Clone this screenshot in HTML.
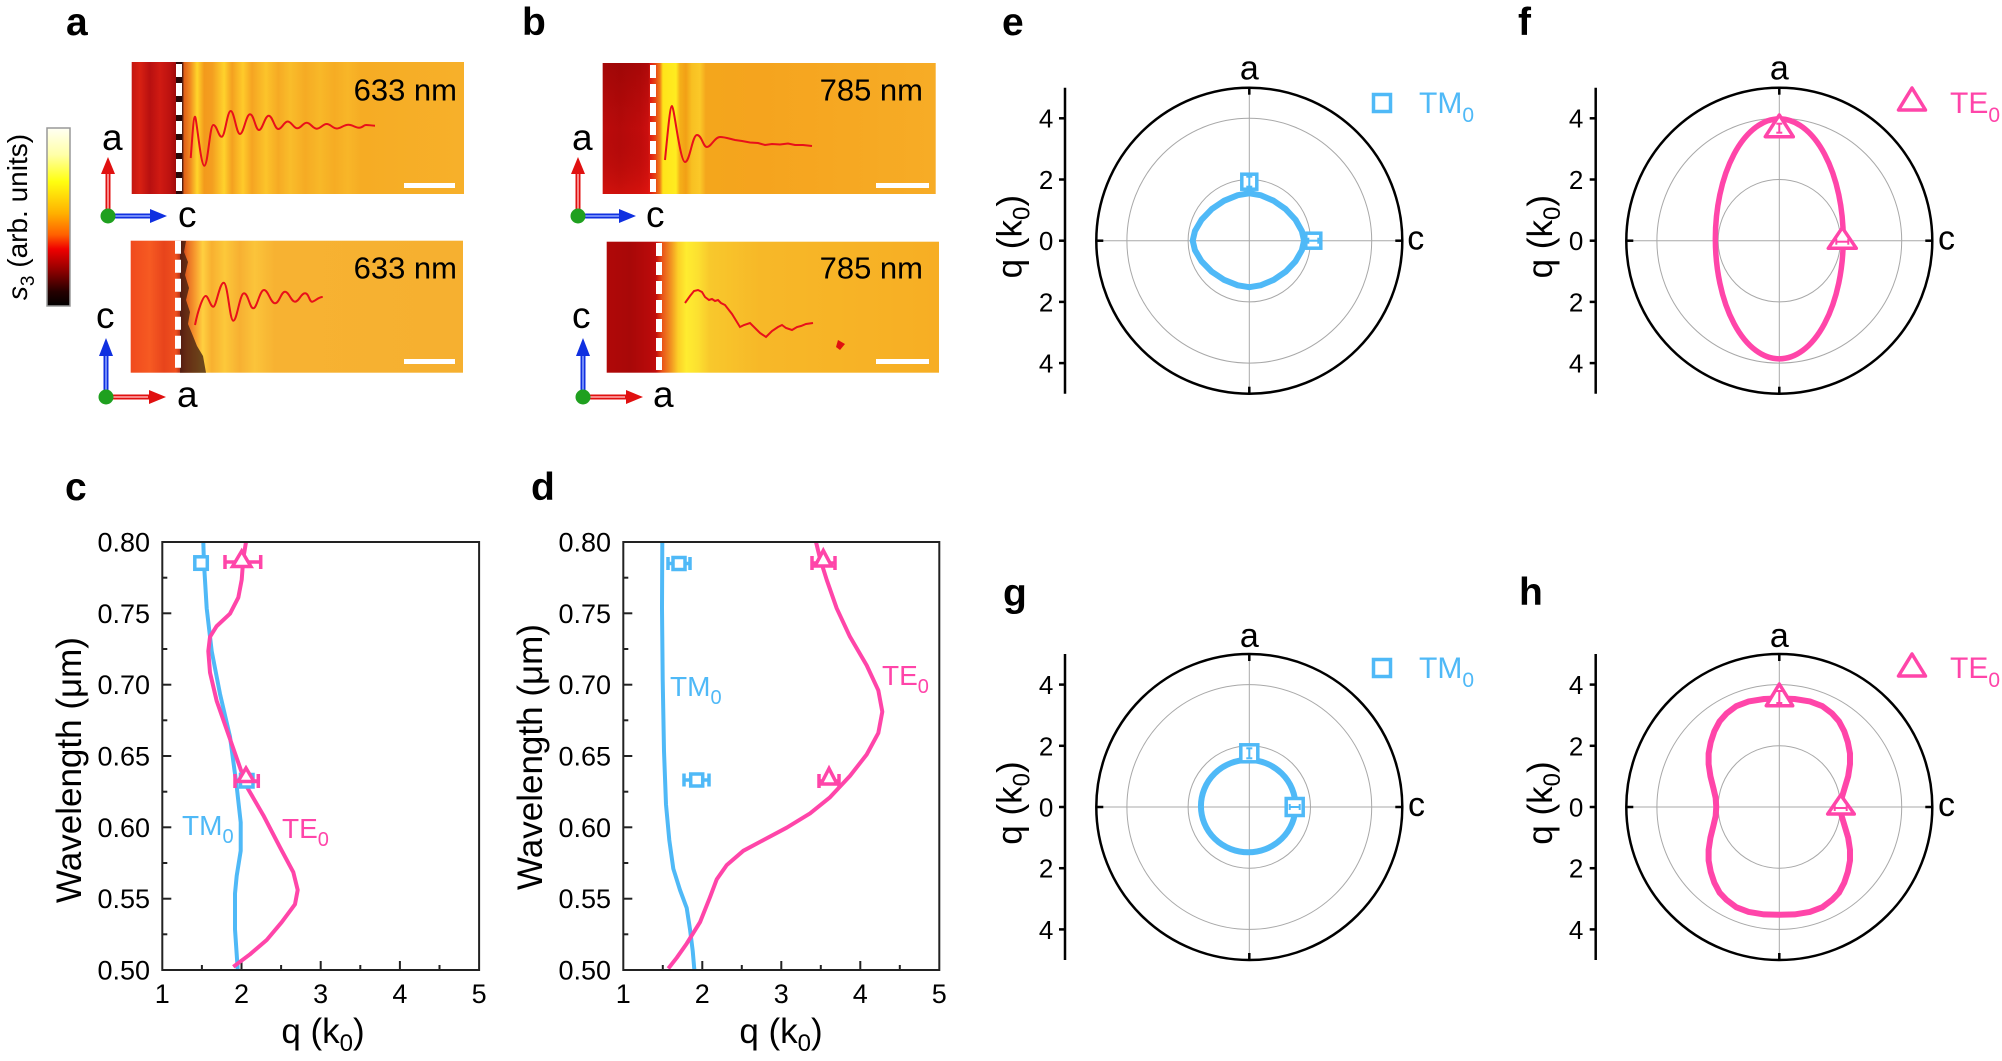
<!DOCTYPE html>
<html><head><meta charset="utf-8"><style>
html,body{margin:0;padding:0;background:#fff;}
svg{display:block;font-family:"Liberation Sans",Arial,sans-serif;}
.pl{font-weight:bold;font-size:39px;fill:#000;}
.tk{font-size:27px;fill:#000;}
.ptk{font-size:26px;fill:#000;}
.ttl{font-size:35px;fill:#000;}
.ns{vector-effect:non-scaling-stroke;}
</style></head><body>
<svg width="2002" height="1061" viewBox="0 0 2002 1061" xmlns="http://www.w3.org/2000/svg">
<defs>
<linearGradient id="cb" x1="0" y1="0" x2="0" y2="1">
<stop offset="0" stop-color="#fffff4"/><stop offset="0.15" stop-color="#ffffa8"/><stop offset="0.3" stop-color="#ffff10"/><stop offset="0.48" stop-color="#ffb000"/><stop offset="0.6" stop-color="#ff6000"/><stop offset="0.68" stop-color="#f00000"/><stop offset="0.8" stop-color="#900000"/><stop offset="0.92" stop-color="#250000"/><stop offset="1" stop-color="#000"/>
</linearGradient>
<linearGradient id="gaT" gradientUnits="userSpaceOnUse" x1="131.7" y1="0" x2="464" y2="0">
<stop offset="0" stop-color="#c41610"/><stop offset="0.025" stop-color="#d82012"/><stop offset="0.055" stop-color="#b81010"/><stop offset="0.085" stop-color="#d01a12"/><stop offset="0.115" stop-color="#bc1210"/><stop offset="0.133" stop-color="#a00c0c"/><stop offset="0.137" stop-color="#301010"/><stop offset="0.152" stop-color="#401510"/><stop offset="0.158" stop-color="#e06018"/><stop offset="0.176" stop-color="#f08a20"/><stop offset="0.197" stop-color="#ffd52a"/><stop offset="0.218" stop-color="#f39a1c"/><stop offset="0.242" stop-color="#f49e20"/><stop offset="0.278" stop-color="#ffd22c"/><stop offset="0.302" stop-color="#f4a020"/><stop offset="0.335" stop-color="#ffcb2a"/><stop offset="0.362" stop-color="#f5a422"/><stop offset="0.404" stop-color="#fcc42a"/><stop offset="0.441" stop-color="#f6aa24"/><stop offset="0.477" stop-color="#f9bd2a"/><stop offset="0.522" stop-color="#f6ab24"/><stop offset="0.567" stop-color="#f8b828"/><stop offset="0.61" stop-color="#f6ac24"/><stop offset="0.65" stop-color="#f8b628"/><stop offset="0.69" stop-color="#f6ac24"/><stop offset="1" stop-color="#f7b02a"/>
</linearGradient>
<linearGradient id="gaB" gradientUnits="userSpaceOnUse" x1="130.7" y1="0" x2="463" y2="0">
<stop offset="0" stop-color="#f04a1e"/><stop offset="0.058" stop-color="#f65a22"/><stop offset="0.1" stop-color="#e8441c"/><stop offset="0.136" stop-color="#f0501e"/><stop offset="0.151" stop-color="#b03018"/><stop offset="0.17" stop-color="#e86a22"/><stop offset="0.196" stop-color="#f8a030"/><stop offset="0.217" stop-color="#ffd040"/><stop offset="0.244" stop-color="#f8b030"/><stop offset="0.283" stop-color="#fcc83a"/><stop offset="0.328" stop-color="#f7b032"/><stop offset="0.373" stop-color="#fbc43a"/><stop offset="0.433" stop-color="#f7b232"/><stop offset="1" stop-color="#f6b030"/>
</linearGradient>
<linearGradient id="gbT" gradientUnits="userSpaceOnUse" x1="602.7" y1="0" x2="935.7" y2="0">
<stop offset="0" stop-color="#c00c0c"/><stop offset="0.052" stop-color="#b80a0a"/><stop offset="0.112" stop-color="#c40c0c"/><stop offset="0.136" stop-color="#d01010"/><stop offset="0.142" stop-color="#e01a10"/><stop offset="0.16" stop-color="#e84a14"/><stop offset="0.172" stop-color="#f07c18"/><stop offset="0.181" stop-color="#ffe41a"/><stop offset="0.22" stop-color="#ffec20"/><stop offset="0.232" stop-color="#f5b018"/><stop offset="0.25" stop-color="#f2a016"/><stop offset="0.268" stop-color="#f8c022"/><stop offset="0.292" stop-color="#fbc828"/><stop offset="0.31" stop-color="#f4a61c"/><stop offset="0.472" stop-color="#f5a41e"/><stop offset="1" stop-color="#f7ac26"/>
</linearGradient>
<linearGradient id="gbB" gradientUnits="userSpaceOnUse" x1="606.7" y1="0" x2="939" y2="0">
<stop offset="0" stop-color="#b00808"/><stop offset="0.07" stop-color="#a80808"/><stop offset="0.13" stop-color="#b80a0a"/><stop offset="0.148" stop-color="#c00c0c"/><stop offset="0.166" stop-color="#e85018"/><stop offset="0.19" stop-color="#f08a20"/><stop offset="0.215" stop-color="#fcd028"/><stop offset="0.24" stop-color="#ffec30"/><stop offset="0.275" stop-color="#fce030"/><stop offset="0.311" stop-color="#f8c82c"/><stop offset="0.462" stop-color="#f7b828"/><stop offset="1" stop-color="#f7ae24"/>
</linearGradient>
<linearGradient id="bshade" x1="0" y1="0" x2="0" y2="1">
<stop offset="0" stop-color="#700000" stop-opacity="0.35"/><stop offset="0.5" stop-color="#700000" stop-opacity="0.05"/><stop offset="1" stop-color="#ff2010" stop-opacity="0.3"/>
</linearGradient>
</defs>
<rect width="2002" height="1061" fill="#fff"/>

<!-- panel letters -->
<text class="pl" x="66" y="35">a</text>
<text class="pl" x="522" y="35">b</text>
<text class="pl" x="1002" y="35">e</text>
<text class="pl" x="1518" y="35">f</text>
<text class="pl" x="65" y="500">c</text>
<text class="pl" x="531" y="500">d</text>
<text class="pl" x="1003" y="606">g</text>
<text class="pl" x="1519" y="605">h</text>

<!-- colorbar -->
<rect x="47" y="128" width="23" height="178" fill="url(#cb)" stroke="#999" stroke-width="1.5"/>
<text transform="translate(27,217) rotate(-90)" text-anchor="middle" font-size="28"><tspan font-style="italic">s</tspan><tspan font-size="19" dy="7">3</tspan><tspan dy="-7"> (arb. units)</tspan></text>

<!-- panel a top image -->
<rect x="131.7" y="62" width="332.3" height="132" fill="url(#gaT)"/>
<line x1="179" y1="62" x2="179" y2="194" stroke="#2a0808" stroke-width="6"/>
<line x1="179" y1="64" x2="179" y2="194" stroke="#fff" stroke-width="6" stroke-dasharray="13 6"/>
<path d="M190.7,158 C192.5,135 193.5,116.7 195,116.7 S200.6,165.7 204.3,165.7 S209.7,125 213.3,125 S218.3,136.7 221.7,136.7 S227.1,111 230.7,111 S236.3,134 240,134 S246,114.3 250,114.3 S255.4,130 259,130 S264.8,115.7 268.7,115.7 S274.5,129 278.3,129 S283.9,121.5 287.7,121.5 S293.5,128.3 297.3,128.3 S302.9,122.7 306.7,122.7 S312.7,128.7 316.7,128.7 S322.7,124 326.7,124 S332.7,128.5 336.7,128.5 S343.7,124.7 348.3,124.7 S354.7,127.7 359,127.7 S363,125 366,125 S371,125.5 375,125.7" fill="none" stroke="#e8101a" stroke-width="2"/>
<text x="457" y="100.7" text-anchor="end" font-size="31">633 nm</text>
<rect x="404" y="183" width="51" height="5" fill="#fff"/>

<!-- panel a bottom image -->
<rect x="130.7" y="240.7" width="332.3" height="132" fill="url(#gaB)"/>
<path d="M180,241 L186,241 L184,252 L188,262 L185,275 L189,288 L186,300 L190,312 L188,324 L193,336 L197,346 L203,356 L206,372.7 L180,372.7Z" fill="#3a1a10" opacity="0.75"/>
<line x1="178" y1="240.7" x2="178" y2="372.7" stroke="#fff" stroke-width="6" stroke-dasharray="13 6"/>
<path d="M195,325 C198,310 203,296 205.7,296 S210.3,306.7 213.3,306.7 S219.5,282.7 223.7,282.7 S229.5,320.7 233.3,320.7 S239.7,293.3 244,293.3 S249.6,308.3 253.3,308.3 S259.7,290 264,290 S270.6,303.3 275,303.3 S281,291.7 285,291.7 S291,301.7 295,301.7 S301,293.3 305,293.3 S309.2,301.7 312,301.7 S318,297 322.7,297" fill="none" stroke="#e8101a" stroke-width="2"/>
<text x="457" y="278.3" text-anchor="end" font-size="31">633 nm</text>
<rect x="404" y="359" width="51" height="5" fill="#fff"/>

<!-- panel b top image -->
<rect x="602.7" y="63" width="333" height="131" fill="url(#gbT)"/>
<rect x="602.7" y="63" width="47" height="131" fill="url(#bshade)"/>
<line x1="653" y1="65" x2="653" y2="194" stroke="#fff" stroke-width="6" stroke-dasharray="13 6"/>
<path d="M665,160 C668,130 670,106 672,106 S680,162 685,162 S692.2,135 697,135 S703,147 707,147 S714.8,137 720,137 S730,139 735,140 L742,141 L750,142.5 L758,143 L765,145 L772,144 L780,144.5 L788,143.5 L795,145 L803,145 L812,146" fill="none" stroke="#e8101a" stroke-width="2"/>
<text x="923" y="100.7" text-anchor="end" font-size="31">785 nm</text>
<rect x="876" y="183" width="53" height="5" fill="#fff"/>

<!-- panel b bottom image -->
<rect x="606.7" y="241.7" width="332.3" height="131" fill="url(#gbB)"/>
<line x1="659" y1="243" x2="659" y2="372.7" stroke="#fff" stroke-width="6" stroke-dasharray="13 6"/>
<path d="M685,303 L690,296 L694,291 L698,290 L702,292 L705,297 L709,300 L712,299 L715,301 L718,300 L721,303 L725,305 L732,314 L740,327 L744,325 L750,323 L756,329 L760,333 L766,337 L772,331 L778,327 L782,325 L786,328 L792,330 L797,327 L801,326 L806,324 L813,323" fill="none" stroke="#e8101a" stroke-width="2"/>
<path d="M838,340 L845,344 L840,350 L836,347Z" fill="#e01010"/>
<text x="923" y="278.3" text-anchor="end" font-size="31">785 nm</text>
<rect x="876" y="359" width="53" height="5" fill="#fff"/>

<!-- coordinate arrows a top -->
<g>
<line x1="108" y1="216" x2="108" y2="172" stroke="#e01010" stroke-width="5"/><line x1="108" y1="214" x2="108" y2="174" stroke="#ffb0b0" stroke-width="1.5"/>
<polygon points="101,174 115,174 108,157" fill="#e01010"/>
<line x1="108" y1="216" x2="152" y2="216" stroke="#1030e0" stroke-width="5"/><line x1="110" y1="216" x2="150" y2="216" stroke="#90a8ff" stroke-width="1.5"/>
<polygon points="150,209 150,223 167,216" fill="#1030e0"/>
<circle cx="108" cy="216" r="7.5" fill="#1fa01f"/>
<text x="102" y="150" font-size="37">a</text><text x="178" y="227" font-size="37">c</text>
</g>
<!-- a bottom -->
<g>
<line x1="106" y1="397" x2="106" y2="354" stroke="#1030e0" stroke-width="5"/><line x1="106" y1="395" x2="106" y2="356" stroke="#90a8ff" stroke-width="1.5"/>
<polygon points="99,356 113,356 106,338" fill="#1030e0"/>
<line x1="106" y1="397" x2="150" y2="397" stroke="#e01010" stroke-width="5"/><line x1="108" y1="397" x2="148" y2="397" stroke="#ffb0b0" stroke-width="1.5"/>
<polygon points="149,390 149,404 166,397" fill="#e01010"/>
<circle cx="106" cy="397" r="7.5" fill="#1fa01f"/>
<text x="96" y="328" font-size="37">c</text><text x="177" y="407" font-size="37">a</text>
</g>
<!-- b top -->
<g>
<line x1="578" y1="216" x2="578" y2="172" stroke="#e01010" stroke-width="5"/><line x1="578" y1="214" x2="578" y2="174" stroke="#ffb0b0" stroke-width="1.5"/>
<polygon points="571,174 585,174 578,157" fill="#e01010"/>
<line x1="578" y1="216" x2="621" y2="216" stroke="#1030e0" stroke-width="5"/><line x1="580" y1="216" x2="619" y2="216" stroke="#90a8ff" stroke-width="1.5"/>
<polygon points="619,209 619,223 636,216" fill="#1030e0"/>
<circle cx="578" cy="216" r="7.5" fill="#1fa01f"/>
<text x="572" y="150" font-size="37">a</text><text x="646" y="227" font-size="37">c</text>
</g>
<!-- b bottom -->
<g>
<line x1="583" y1="397" x2="583" y2="354" stroke="#1030e0" stroke-width="5"/><line x1="583" y1="395" x2="583" y2="356" stroke="#90a8ff" stroke-width="1.5"/>
<polygon points="576,356 590,356 583,338" fill="#1030e0"/>
<line x1="583" y1="397" x2="627" y2="397" stroke="#e01010" stroke-width="5"/><line x1="585" y1="397" x2="625" y2="397" stroke="#ffb0b0" stroke-width="1.5"/>
<polygon points="626,390 626,404 643,397" fill="#e01010"/>
<circle cx="583" cy="397" r="7.5" fill="#1fa01f"/>
<text x="572" y="328" font-size="37">c</text><text x="653" y="407" font-size="37">a</text>
</g>

<!-- ============ panel c ============ -->
<g stroke="#222" stroke-width="2">
<line x1="162.3" y1="934.3" x2="167.3" y2="934.3"/><line x1="162.3" y1="898.7" x2="171.3" y2="898.7"/>
<line x1="162.3" y1="863" x2="167.3" y2="863"/><line x1="162.3" y1="827.3" x2="171.3" y2="827.3"/>
<line x1="162.3" y1="791.7" x2="167.3" y2="791.7"/><line x1="162.3" y1="756" x2="171.3" y2="756"/>
<line x1="162.3" y1="720.3" x2="167.3" y2="720.3"/><line x1="162.3" y1="684.7" x2="171.3" y2="684.7"/>
<line x1="162.3" y1="649" x2="167.3" y2="649"/><line x1="162.3" y1="613.3" x2="171.3" y2="613.3"/>
<line x1="162.3" y1="577.7" x2="167.3" y2="577.7"/>
<line x1="201.9" y1="970" x2="201.9" y2="965"/><line x1="241.5" y1="970" x2="241.5" y2="961"/>
<line x1="281.1" y1="970" x2="281.1" y2="965"/><line x1="320.7" y1="970" x2="320.7" y2="961"/>
<line x1="360.3" y1="970" x2="360.3" y2="965"/><line x1="399.9" y1="970" x2="399.9" y2="961"/>
<line x1="439.5" y1="970" x2="439.5" y2="965"/>
</g>
<polyline points="203.3,542 204,563.7 206.7,608.3 211.7,651.1 220,693.9 230,736.7 236.7,786.6 240.7,822.3 240.7,850.8 236.7,875.8 235,893.6 235,929.3 237.3,963.2 237.7,970" fill="none" stroke="#4fb9f7" stroke-width="4" stroke-linejoin="round"/>
<polyline points="246,542 243.3,558.4 241.7,579.8 238.3,597.6 230,613.7 216.7,626.1 210,636.8 208.3,651.1 210,672.5 216.7,701 226.7,729.6 236.7,758.1 246.7,786.6 263.3,815.2 280,847.3 293.3,872.2 297.7,890 295,904.3 281.7,922.2 266.7,940 250,954.3 233.3,966.8" fill="none" stroke="#ff45a9" stroke-width="4" stroke-linejoin="round"/>
<rect x="162.3" y="542" width="316.8" height="428" fill="none" stroke="#222" stroke-width="2"/>
<!-- c markers -->
<rect x="194.8" y="556.8" width="12.5" height="12.5" fill="#fff" stroke="#4fb9f7" stroke-width="3.5"/>
<g stroke="#ff45a9" stroke-width="3.5" fill="none">
<line x1="225" y1="562" x2="260.7" y2="562"/><line x1="225" y1="555" x2="225" y2="569"/><line x1="260.7" y1="555" x2="260.7" y2="569"/>
<polygon points="241.7,551 232.5,566.5 250.9,566.5" fill="#fff"/>
</g>
<rect x="240.5" y="774.5" width="12.5" height="12.5" fill="#fff" stroke="#4fb9f7" stroke-width="3.5"/>
<g stroke="#ff45a9" stroke-width="3.5" fill="none">
<line x1="235" y1="781" x2="258.3" y2="781"/><line x1="235" y1="774" x2="235" y2="788"/><line x1="258.3" y1="774" x2="258.3" y2="788"/>
<polygon points="246,768 238,781.5 254,781.5" fill="#fff"/>
</g>
<g class="tk" text-anchor="end">
<text x="150" y="551.5">0.80</text><text x="150" y="622.8">0.75</text><text x="150" y="694.2">0.70</text><text x="150" y="765.5">0.65</text><text x="150" y="836.8">0.60</text><text x="150" y="908.2">0.55</text><text x="150" y="979.5">0.50</text>
</g>
<g class="tk" text-anchor="middle">
<text x="162.3" y="1003">1</text><text x="241.5" y="1003">2</text><text x="320.7" y="1003">3</text><text x="399.9" y="1003">4</text><text x="479.1" y="1003">5</text>
</g>
<text class="ttl" transform="translate(81,770) rotate(-90)" text-anchor="middle">Wavelength (μm)</text>
<text class="ttl" x="323" y="1043" text-anchor="middle">q (k<tspan font-size="24" dy="8">0</tspan><tspan dy="-8">)</tspan></text>
<text x="182" y="835" font-size="28" fill="#4fb9f7">TM<tspan font-size="20" dy="8">0</tspan></text>
<text x="282" y="838" font-size="28" fill="#ff45a9">TE<tspan font-size="20" dy="8">0</tspan></text>

<!-- ============ panel d ============ -->
<g stroke="#222" stroke-width="2">
<line x1="623.3" y1="934.3" x2="628.3" y2="934.3"/><line x1="623.3" y1="898.7" x2="632.3" y2="898.7"/>
<line x1="623.3" y1="863" x2="628.3" y2="863"/><line x1="623.3" y1="827.3" x2="632.3" y2="827.3"/>
<line x1="623.3" y1="791.7" x2="628.3" y2="791.7"/><line x1="623.3" y1="756" x2="632.3" y2="756"/>
<line x1="623.3" y1="720.3" x2="628.3" y2="720.3"/><line x1="623.3" y1="684.7" x2="632.3" y2="684.7"/>
<line x1="623.3" y1="649" x2="628.3" y2="649"/><line x1="623.3" y1="613.3" x2="632.3" y2="613.3"/>
<line x1="623.3" y1="577.7" x2="628.3" y2="577.7"/>
<line x1="662.8" y1="970" x2="662.8" y2="965"/><line x1="702.3" y1="970" x2="702.3" y2="961"/>
<line x1="741.8" y1="970" x2="741.8" y2="965"/><line x1="781.3" y1="970" x2="781.3" y2="961"/>
<line x1="820.8" y1="970" x2="820.8" y2="965"/><line x1="860.3" y1="970" x2="860.3" y2="961"/>
<line x1="899.8" y1="970" x2="899.8" y2="965"/>
</g>
<polyline points="662.3,542 662,608.3 662.7,679.6 664,751 666,804.5 669.3,840.1 673.3,868.7 680,890 686.7,907.9 690,929.3 692.7,950.7 694.3,969.2" fill="none" stroke="#4fb9f7" stroke-width="4" stroke-linejoin="round"/>
<polyline points="816,542 820,558.4 826.7,579.8 836.7,608.3 850,636.8 866.7,665.4 878.3,690.3 882.3,711.7 878.3,733.1 866.7,754.5 850,775.9 830,797.3 810,813.4 786.7,827.7 763.3,840.1 743.3,850.8 726.7,865.1 716.7,879.4 710,897.2 700,922.2 686.7,943.6 676.7,957.8 668.3,968.5" fill="none" stroke="#ff45a9" stroke-width="4" stroke-linejoin="round"/>
<rect x="623.3" y="542" width="316" height="428" fill="none" stroke="#222" stroke-width="2"/>
<!-- d markers -->
<g stroke="#4fb9f7" stroke-width="3.5" fill="none">
<line x1="668" y1="563.5" x2="690" y2="563.5"/><line x1="668" y1="557" x2="668" y2="570"/><line x1="690" y1="557" x2="690" y2="570"/>
<rect x="673" y="557.5" width="12" height="12" fill="#fff"/>
<line x1="684" y1="780" x2="709" y2="780"/><line x1="684" y1="773.5" x2="684" y2="786.5"/><line x1="709" y1="773.5" x2="709" y2="786.5"/>
<rect x="690.7" y="774" width="12" height="12" fill="#fff"/>
</g>
<g stroke="#ff45a9" stroke-width="3.5" fill="none">
<line x1="812" y1="563" x2="835" y2="563"/><line x1="812" y1="556" x2="812" y2="570"/><line x1="835" y1="556" x2="835" y2="570"/>
<polygon points="823.3,550.5 815,566 831.6,566" fill="#fff"/>
<line x1="819" y1="781" x2="839" y2="781"/><line x1="819" y1="774" x2="819" y2="788"/><line x1="839" y1="774" x2="839" y2="788"/>
<polygon points="829,768.5 821,784 837,784" fill="#fff"/>
</g>
<g class="tk" text-anchor="end">
<text x="611" y="551.5">0.80</text><text x="611" y="622.8">0.75</text><text x="611" y="694.2">0.70</text><text x="611" y="765.5">0.65</text><text x="611" y="836.8">0.60</text><text x="611" y="908.2">0.55</text><text x="611" y="979.5">0.50</text>
</g>
<g class="tk" text-anchor="middle">
<text x="623.3" y="1003">1</text><text x="702.3" y="1003">2</text><text x="781.3" y="1003">3</text><text x="860.3" y="1003">4</text><text x="939.3" y="1003">5</text>
</g>
<text class="ttl" transform="translate(542,757) rotate(-90)" text-anchor="middle">Wavelength (μm)</text>
<text class="ttl" x="781" y="1043" text-anchor="middle">q (k<tspan font-size="24" dy="8">0</tspan><tspan dy="-8">)</tspan></text>
<text x="670" y="696" font-size="28" fill="#4fb9f7">TM<tspan font-size="20" dy="8">0</tspan></text>
<text x="882" y="685" font-size="28" fill="#ff45a9">TE<tspan font-size="20" dy="8">0</tspan></text>

<!-- ============ polar e ============ -->
<g transform="translate(1249.3,240.7)">
<g fill="none" stroke="#a8a8a8" stroke-width="1"><circle r="61.2"/><circle r="122.4"/><line x1="-153" y1="0" x2="153" y2="0"/><line x1="0" y1="-153" x2="0" y2="153"/></g>
<circle r="153" fill="none" stroke="#000" stroke-width="2.5"/>
<g stroke="#000" stroke-width="2.5"><line x1="0" y1="-153" x2="0" y2="-146"/><line x1="0" y1="153" x2="0" y2="146"/><line x1="-153" y1="0" x2="-146" y2="0"/><line x1="153" y1="0" x2="146" y2="0"/>
<line x1="-184.3" y1="-153" x2="-184.3" y2="153"/>
<line x1="-184.3" y1="-122.4" x2="-190.3" y2="-122.4"/><line x1="-184.3" y1="-61.2" x2="-190.3" y2="-61.2"/><line x1="-184.3" y1="0" x2="-190.3" y2="0"/><line x1="-184.3" y1="61.2" x2="-190.3" y2="61.2"/><line x1="-184.3" y1="122.4" x2="-190.3" y2="122.4"/></g>
<g class="ptk" text-anchor="end"><text x="-196" y="-113">4</text><text x="-196" y="-51.7">2</text><text x="-196" y="9.5">0</text><text x="-196" y="70.7">2</text><text x="-196" y="131.9">4</text></g>
<text x="0" y="-161" font-size="34" text-anchor="middle">a</text>
<text x="158" y="9" font-size="34">c</text>
<text class="ttl" transform="translate(-227.8,-4) rotate(-90)" text-anchor="middle">q (k<tspan font-size="24" dy="8">0</tspan><tspan dy="-8">)</tspan></text>
<g transform="scale(30.6,-30.6)">
<polygon class="ns" points="1.79,0 1.718,0.316 1.511,0.685 1.19,1.031 0.791,1.308 0.365,1.488 0,1.55 -0.377,1.488 -0.818,1.308 -1.23,1.031 -1.561,0.685 -1.776,0.316 -1.85,0 -1.776,-0.31 -1.561,-0.672 -1.23,-1.011 -0.818,-1.283 -0.377,-1.459 0,-1.52 0.365,-1.459 0.791,-1.283 1.19,-1.011 1.511,-0.672 1.718,-0.31" fill="none" stroke="#4fb9f7" stroke-width="6" stroke-linejoin="round"/>
</g>
<rect x="-7.5" y="-66.5" width="15" height="15" fill="#fff" stroke="#4fb9f7" stroke-width="3.5"/>
<g stroke="#4fb9f7" stroke-width="2"><line x1="0" y1="-64" x2="0" y2="-54"/><line x1="-3" y1="-64" x2="3" y2="-64"/><line x1="-3" y1="-54" x2="3" y2="-54"/></g>
<rect x="56.5" y="-7.5" width="15" height="15" fill="#fff" stroke="#4fb9f7" stroke-width="3.5"/>
<g stroke="#4fb9f7" stroke-width="2"><line x1="59" y1="0" x2="69" y2="0"/><line x1="59" y1="-3" x2="59" y2="3"/><line x1="69" y1="-3" x2="69" y2="3"/></g>
</g>
<rect x="1373.5" y="94.5" width="17" height="17" fill="#fff" stroke="#4fb9f7" stroke-width="3.5"/>
<text x="1419" y="113" font-size="30" fill="#4fb9f7">TM<tspan font-size="21" dy="9">0</tspan></text>

<!-- ============ polar f ============ -->
<g transform="translate(1779.3,240.7)">
<g fill="none" stroke="#a8a8a8" stroke-width="1"><circle r="61.2"/><circle r="122.4"/><line x1="-153" y1="0" x2="153" y2="0"/><line x1="0" y1="-153" x2="0" y2="153"/></g>
<circle r="153" fill="none" stroke="#000" stroke-width="2.5"/>
<g stroke="#000" stroke-width="2.5"><line x1="0" y1="-153" x2="0" y2="-146"/><line x1="0" y1="153" x2="0" y2="146"/><line x1="-153" y1="0" x2="-146" y2="0"/><line x1="153" y1="0" x2="146" y2="0"/>
<line x1="-183.6" y1="-153" x2="-183.6" y2="153"/>
<line x1="-183.6" y1="-122.4" x2="-189.6" y2="-122.4"/><line x1="-183.6" y1="-61.2" x2="-189.6" y2="-61.2"/><line x1="-183.6" y1="0" x2="-189.6" y2="0"/><line x1="-183.6" y1="61.2" x2="-189.6" y2="61.2"/><line x1="-183.6" y1="122.4" x2="-189.6" y2="122.4"/></g>
<g class="ptk" text-anchor="end"><text x="-196" y="-113">4</text><text x="-196" y="-51.7">2</text><text x="-196" y="9.5">0</text><text x="-196" y="70.7">2</text><text x="-196" y="131.9">4</text></g>
<text x="0" y="-161" font-size="34" text-anchor="middle">a</text>
<text x="158.7" y="9" font-size="34">c</text>
<text class="ttl" transform="translate(-227.3,-4) rotate(-90)" text-anchor="middle">q (k<tspan font-size="24" dy="8">0</tspan><tspan dy="-8">)</tspan></text>
<g transform="scale(30.6,-30.6)">
<ellipse class="ns" cx="0" cy="0.06" rx="2.09" ry="3.92" fill="none" stroke="#ff45a9" stroke-width="5.5"/>
</g>
<polygon points="0,-125.7 -14,-104 14,-104" fill="#fff" stroke="#ff45a9" stroke-width="3.5" stroke-linejoin="round"/>
<g stroke="#ff45a9" stroke-width="2"><line x1="0" y1="-117" x2="0" y2="-108"/><line x1="-3" y1="-117" x2="3" y2="-117"/><line x1="-3" y1="-108" x2="3" y2="-108"/></g>
<polygon points="63,-13 49,7.6 77,7.6" fill="#fff" stroke="#ff45a9" stroke-width="3.5" stroke-linejoin="round"/>
<g stroke="#ff45a9" stroke-width="2"><line x1="57" y1="1" x2="69" y2="1"/><line x1="57" y1="-2" x2="57" y2="4"/><line x1="69" y1="-2" x2="69" y2="4"/></g>
</g>
<polygon points="1912,88 1898.5,110 1925.5,110" fill="#fff" stroke="#ff45a9" stroke-width="3.5" stroke-linejoin="round"/>
<text x="1950" y="113" font-size="30" fill="#ff45a9">TE<tspan font-size="21" dy="9">0</tspan></text>

<!-- ============ polar g ============ -->
<g transform="translate(1249.3,807)">
<g fill="none" stroke="#a8a8a8" stroke-width="1"><circle r="61.2"/><circle r="122.4"/><line x1="-153" y1="0" x2="153" y2="0"/><line x1="0" y1="-153" x2="0" y2="153"/></g>
<circle r="153" fill="none" stroke="#000" stroke-width="2.5"/>
<g stroke="#000" stroke-width="2.5"><line x1="0" y1="-153" x2="0" y2="-146"/><line x1="0" y1="153" x2="0" y2="146"/><line x1="-153" y1="0" x2="-146" y2="0"/><line x1="153" y1="0" x2="146" y2="0"/>
<line x1="-184.3" y1="-153" x2="-184.3" y2="153"/>
<line x1="-184.3" y1="-122.4" x2="-190.3" y2="-122.4"/><line x1="-184.3" y1="-61.2" x2="-190.3" y2="-61.2"/><line x1="-184.3" y1="0" x2="-190.3" y2="0"/><line x1="-184.3" y1="61.2" x2="-190.3" y2="61.2"/><line x1="-184.3" y1="122.4" x2="-190.3" y2="122.4"/></g>
<g class="ptk" text-anchor="end"><text x="-196" y="-113">4</text><text x="-196" y="-51.7">2</text><text x="-196" y="9.5">0</text><text x="-196" y="70.7">2</text><text x="-196" y="131.9">4</text></g>
<text x="0" y="-160" font-size="34" text-anchor="middle">a</text>
<text x="158.7" y="9" font-size="34">c</text>
<text class="ttl" transform="translate(-227.8,-4) rotate(-90)" text-anchor="middle">q (k<tspan font-size="24" dy="8">0</tspan><tspan dy="-8">)</tspan></text>
<g transform="scale(30.6,-30.6)">
<ellipse class="ns" cx="-0.035" cy="0.03" rx="1.545" ry="1.51" fill="none" stroke="#4fb9f7" stroke-width="6"/>
</g>
<rect x="-8.5" y="-62.2" width="17" height="17" fill="#fff" stroke="#4fb9f7" stroke-width="3.5"/>
<g stroke="#4fb9f7" stroke-width="2"><line x1="0" y1="-58.7" x2="0" y2="-48.7"/><line x1="-3" y1="-58.7" x2="3" y2="-58.7"/><line x1="-3" y1="-48.7" x2="3" y2="-48.7"/></g>
<rect x="36.9" y="-8.5" width="17" height="17" fill="#fff" stroke="#4fb9f7" stroke-width="3.5"/>
<g stroke="#4fb9f7" stroke-width="2"><line x1="40.4" y1="0" x2="50.4" y2="0"/><line x1="40.4" y1="-3" x2="40.4" y2="3"/><line x1="50.4" y1="-3" x2="50.4" y2="3"/></g>
</g>
<rect x="1373.5" y="659.5" width="17" height="17" fill="#fff" stroke="#4fb9f7" stroke-width="3.5"/>
<text x="1419" y="678" font-size="30" fill="#4fb9f7">TM<tspan font-size="21" dy="9">0</tspan></text>

<!-- ============ polar h ============ -->
<g transform="translate(1779.3,807)">
<g fill="none" stroke="#a8a8a8" stroke-width="1"><circle r="61.2"/><circle r="122.4"/><line x1="-153" y1="0" x2="153" y2="0"/><line x1="0" y1="-153" x2="0" y2="153"/></g>
<circle r="153" fill="none" stroke="#000" stroke-width="2.5"/>
<g stroke="#000" stroke-width="2.5"><line x1="0" y1="-153" x2="0" y2="-146"/><line x1="0" y1="153" x2="0" y2="146"/><line x1="-153" y1="0" x2="-146" y2="0"/><line x1="153" y1="0" x2="146" y2="0"/>
<line x1="-183.6" y1="-153" x2="-183.6" y2="153"/>
<line x1="-183.6" y1="-122.4" x2="-189.6" y2="-122.4"/><line x1="-183.6" y1="-61.2" x2="-189.6" y2="-61.2"/><line x1="-183.6" y1="0" x2="-189.6" y2="0"/><line x1="-183.6" y1="61.2" x2="-189.6" y2="61.2"/><line x1="-183.6" y1="122.4" x2="-189.6" y2="122.4"/></g>
<g class="ptk" text-anchor="end"><text x="-196" y="-113">4</text><text x="-196" y="-51.7">2</text><text x="-196" y="9.5">0</text><text x="-196" y="70.7">2</text><text x="-196" y="131.9">4</text></g>
<text x="0" y="-160" font-size="34" text-anchor="middle">a</text>
<text x="158.7" y="9" font-size="34">c</text>
<text class="ttl" transform="translate(-227.3,-4) rotate(-90)" text-anchor="middle">q (k<tspan font-size="24" dy="8">0</tspan><tspan dy="-8">)</tspan></text>
<g transform="scale(30.6,-30.6)">
<polygon class="ns" points="0,3.55 -0.5,3.53 -1,3.45 -1.4,3.3 -1.72,3.06 -1.95,2.8 -2.12,2.48 -2.24,2.12 -2.31,1.75 -2.31,1.4 -2.25,1 -2.15,0.6 -2.08,0.3 -2.06,0 -2.08,-0.3 -2.15,-0.6 -2.25,-1 -2.31,-1.4 -2.31,-1.75 -2.24,-2.12 -2.12,-2.48 -1.95,-2.8 -1.72,-3.04 -1.4,-3.28 -1,-3.43 -0.5,-3.51 0,-3.52 0.5,-3.51 1,-3.43 1.4,-3.28 1.72,-3.04 1.95,-2.8 2.12,-2.48 2.24,-2.12 2.31,-1.75 2.31,-1.4 2.25,-1 2.13,-0.6 2.04,-0.3 2.01,0 2.04,0.3 2.13,0.6 2.25,1 2.31,1.4 2.31,1.75 2.24,2.12 2.12,2.48 1.95,2.8 1.72,3.06 1.4,3.3 1,3.45 0.5,3.53" fill="none" stroke="#ff45a9" stroke-width="6" stroke-linejoin="round"/>
</g>
<polygon points="0,-123 -13,-101.3 13.4,-101.3" fill="#fff" stroke="#ff45a9" stroke-width="3.5" stroke-linejoin="round"/>
<g stroke="#ff45a9" stroke-width="2"><line x1="0" y1="-116" x2="0" y2="-104"/><line x1="-3" y1="-116" x2="3" y2="-116"/><line x1="-3" y1="-104" x2="3" y2="-104"/></g>
<polygon points="61.4,-12 48.4,7 75,7" fill="#fff" stroke="#ff45a9" stroke-width="3.5" stroke-linejoin="round"/>
<g stroke="#ff45a9" stroke-width="2"><line x1="55.4" y1="1" x2="67.4" y2="1"/><line x1="55.4" y1="-2" x2="55.4" y2="4"/><line x1="67.4" y1="-2" x2="67.4" y2="4"/></g>
</g>
<polygon points="1912,654 1898.5,676 1925.5,676" fill="#fff" stroke="#ff45a9" stroke-width="3.5" stroke-linejoin="round"/>
<text x="1950" y="678" font-size="30" fill="#ff45a9">TE<tspan font-size="21" dy="9">0</tspan></text>
</svg>
</body></html>
